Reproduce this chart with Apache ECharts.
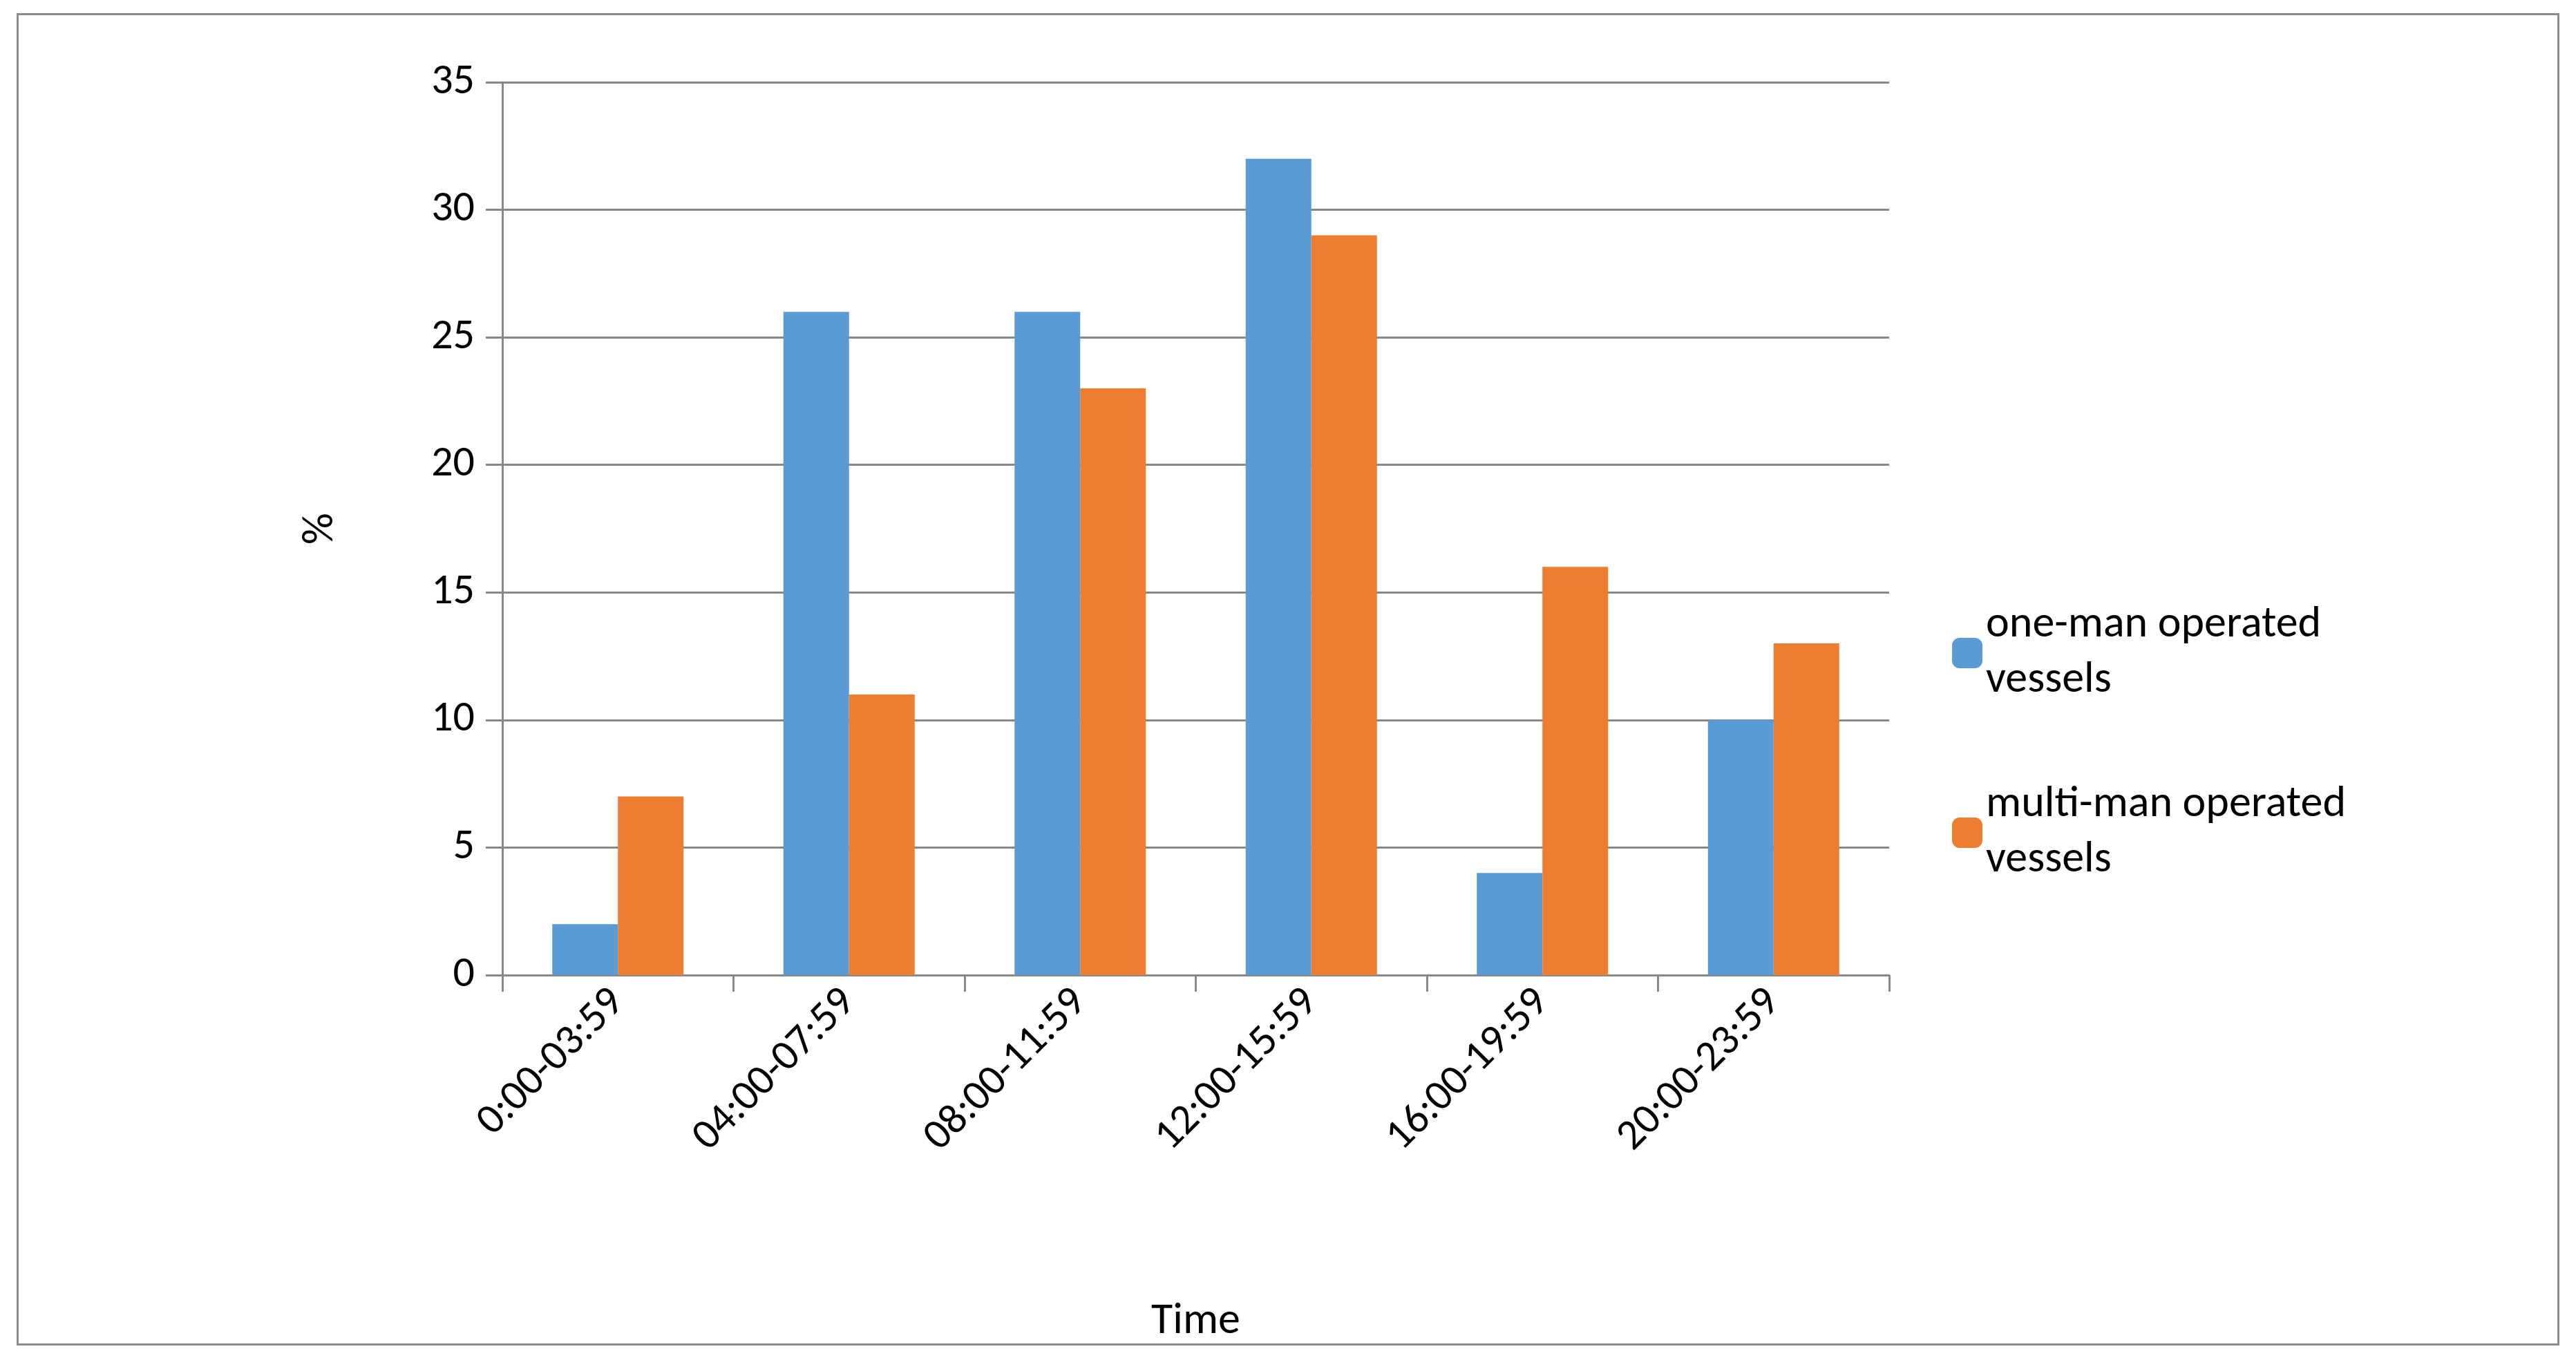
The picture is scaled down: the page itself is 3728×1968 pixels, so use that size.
<!DOCTYPE html>
<html>
<head>
<meta charset="utf-8">
<script src="https://cdn.jsdelivr.net/npm/echarts@6/dist/echarts.min.js"></script>
<style>
  html, body { margin: 0; padding: 0; background: #fff; }
  #chart { width: 3728px; height: 1968px; }
  #frame { position: absolute; left: 24px; top: 19px; width: 3680px; height: 1928px; border: 3px solid #8c8c8c; box-sizing: border-box; pointer-events: none; }
</style>
</head>
<body>
<div id="chart"></div>
<div id="frame"></div>
<script>
const categories = ["0:00-03:59", "04:00-07:59", "08:00-11:59", "12:00-15:59", "16:00-19:59", "20:00-23:59"];
const oneMan = [2, 26, 26, 32, 4, 10];
const multiMan = [7, 11, 23, 29, 16, 13];
const yTicks = { min: 0, max: 35, interval: 5 };

const chart = echarts.init(document.getElementById("chart"));
const font = "Calibri, Carlito, 'Liberation Sans', sans-serif";

chart.setOption({
  animation: false,
  textStyle: { fontFamily: font, color: "#000" },
  grid: { left: 727, right: 3728 - 2734, top: 119, bottom: 1968 - 1411 },
  legend: {
    orient: "vertical",
    left: 2820,
    top: 860,
    itemWidth: 44,
    itemHeight: 44,
    itemGap: 100,
    textStyle: { fontSize: 64, fontFamily: font, color: "#000", lineHeight: 80 },
    formatter: name => name.replace(" operated ", " operated\n")
  },
  xAxis: {
    type: "category",
    data: categories,
    name: "Time",
    nameLocation: "middle",
    nameGap: 470,
    nameTextStyle: { fontSize: 64, fontFamily: font, color: "#000" },
    axisLine: { lineStyle: { color: "#888", width: 3 } },
    axisTick: { show: true, length: 24, lineStyle: { color: "#888", width: 3 } },
    axisLabel: { rotate: 45, fontSize: 62, color: "#000", margin: 30, fontFamily: font }
  },
  yAxis: {
    type: "value",
    min: yTicks.min,
    max: yTicks.max,
    interval: yTicks.interval,
    name: "%",
    nameLocation: "middle",
    nameRotate: 90,
    nameGap: 230,
    nameTextStyle: { fontSize: 64, fontFamily: font, color: "#000" },
    axisLine: { show: true, lineStyle: { color: "#888", width: 3 } },
    axisTick: { show: true, length: 24, inside: false, lineStyle: { color: "#888", width: 3 } },
    axisLabel: { fontSize: 62, color: "#000", margin: 40, fontFamily: font },
    splitLine: { lineStyle: { color: "#888", width: 3 } }
  },
  series: [
    { name: "one-man operated vessels", type: "bar", data: oneMan, barWidth: 95, barGap: "0%",
      itemStyle: { color: "#5b9bd5" } },
    { name: "multi-man operated vessels", type: "bar", data: multiMan, barWidth: 95,
      itemStyle: { color: "#ed7d31" } }
  ]
});
</script>
</body>
</html>
